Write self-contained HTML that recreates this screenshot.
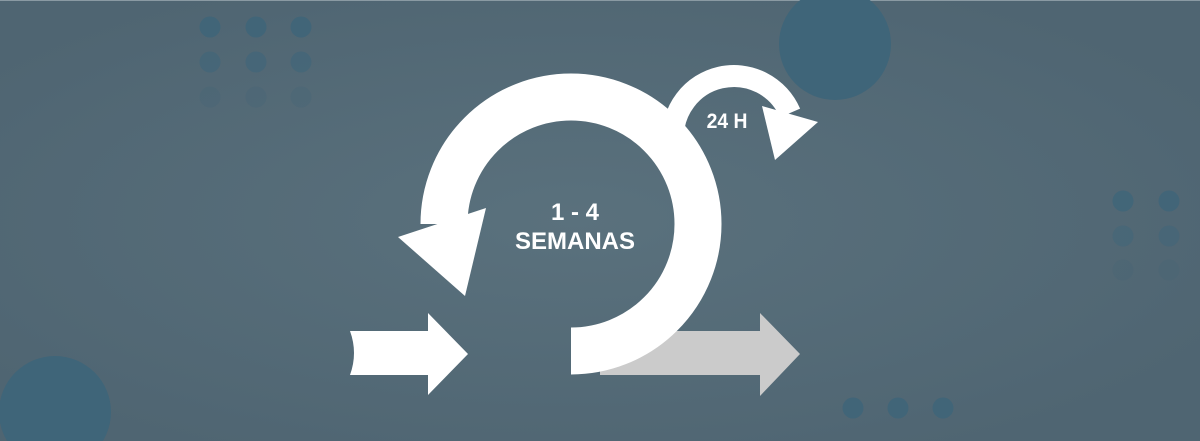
<!DOCTYPE html>
<html><head><meta charset="utf-8"><style>
html,body{margin:0;padding:0;width:1200px;height:441px;overflow:hidden}
svg{display:block}
</style></head><body>
<svg width="1200" height="441" viewBox="0 0 1200 441" xmlns="http://www.w3.org/2000/svg">
<defs>
<radialGradient id="bg" cx="0.48" cy="0.5" r="0.6">
<stop offset="0" stop-color="#5a717d"/>
<stop offset="1" stop-color="#4f6572"/>
</radialGradient>
</defs>
<rect width="1200" height="441" fill="url(#bg)"/>
<rect width="1200" height="1" fill="#8a9aa3"/>
<circle cx="835" cy="44" r="56" fill="#3f6579"/>
<circle cx="55" cy="412" r="56" fill="#3f6579"/>
<g fill="#3f6579">
<circle cx="210" cy="27" r="10.5" opacity="0.9"/><circle cx="256" cy="27" r="10.5" opacity="0.9"/><circle cx="301" cy="27" r="10.5" opacity="0.9"/>
<circle cx="210" cy="62" r="10.5" opacity="0.6"/><circle cx="256" cy="62" r="10.5" opacity="0.6"/><circle cx="301" cy="62" r="10.5" opacity="0.6"/>
<circle cx="210" cy="97" r="10.5" opacity="0.25"/><circle cx="256" cy="97" r="10.5" opacity="0.25"/><circle cx="301" cy="97" r="10.5" opacity="0.25"/>
<circle cx="1123" cy="201" r="10.5" opacity="0.8"/><circle cx="1169" cy="201" r="10.5" opacity="0.8"/>
<circle cx="1123" cy="236" r="10.5" opacity="0.5"/><circle cx="1169" cy="236" r="10.5" opacity="0.5"/>
<circle cx="1123" cy="270" r="10.5" opacity="0.2"/><circle cx="1169" cy="270" r="10.5" opacity="0.2"/>
<circle cx="853" cy="408" r="10.5" opacity="0.9"/><circle cx="898" cy="408" r="10.5" opacity="0.9"/><circle cx="943" cy="408" r="10.5" opacity="0.9"/>
</g>
<polygon points="600,331 760,331 760,313 800,354 760,396 760,375 600,375" fill="#cbcbcb"/>
<path d="M350,331 L428,331 L428,313 L468,354 L428,395 L428,375 L350,375 Q358,353 350,331 Z" fill="#fff"/>
<path d="M571 351 A127 127 0 1 0 444 224" fill="none" stroke="#fff" stroke-width="47"/>
<polygon points="398,237 486,208 465,296" fill="#fff"/>
<path d="M673 140 A61 61 0 0 1 790 113" fill="none" stroke="#fff" stroke-width="22"/>
<polygon points="762,106 818,122 775,160" fill="#fff"/>
<g font-family="Liberation Sans, sans-serif" font-weight="bold" fill="#fff" text-anchor="middle">
<text x="575" y="220" font-size="24">1 - 4</text>
<text x="575" y="249" font-size="24">SEMANAS</text>
<text x="727" y="128" font-size="21" transform="translate(727 0) scale(0.92 1) translate(-727 0)">24 H</text>
</g>
</svg>
</body></html>
